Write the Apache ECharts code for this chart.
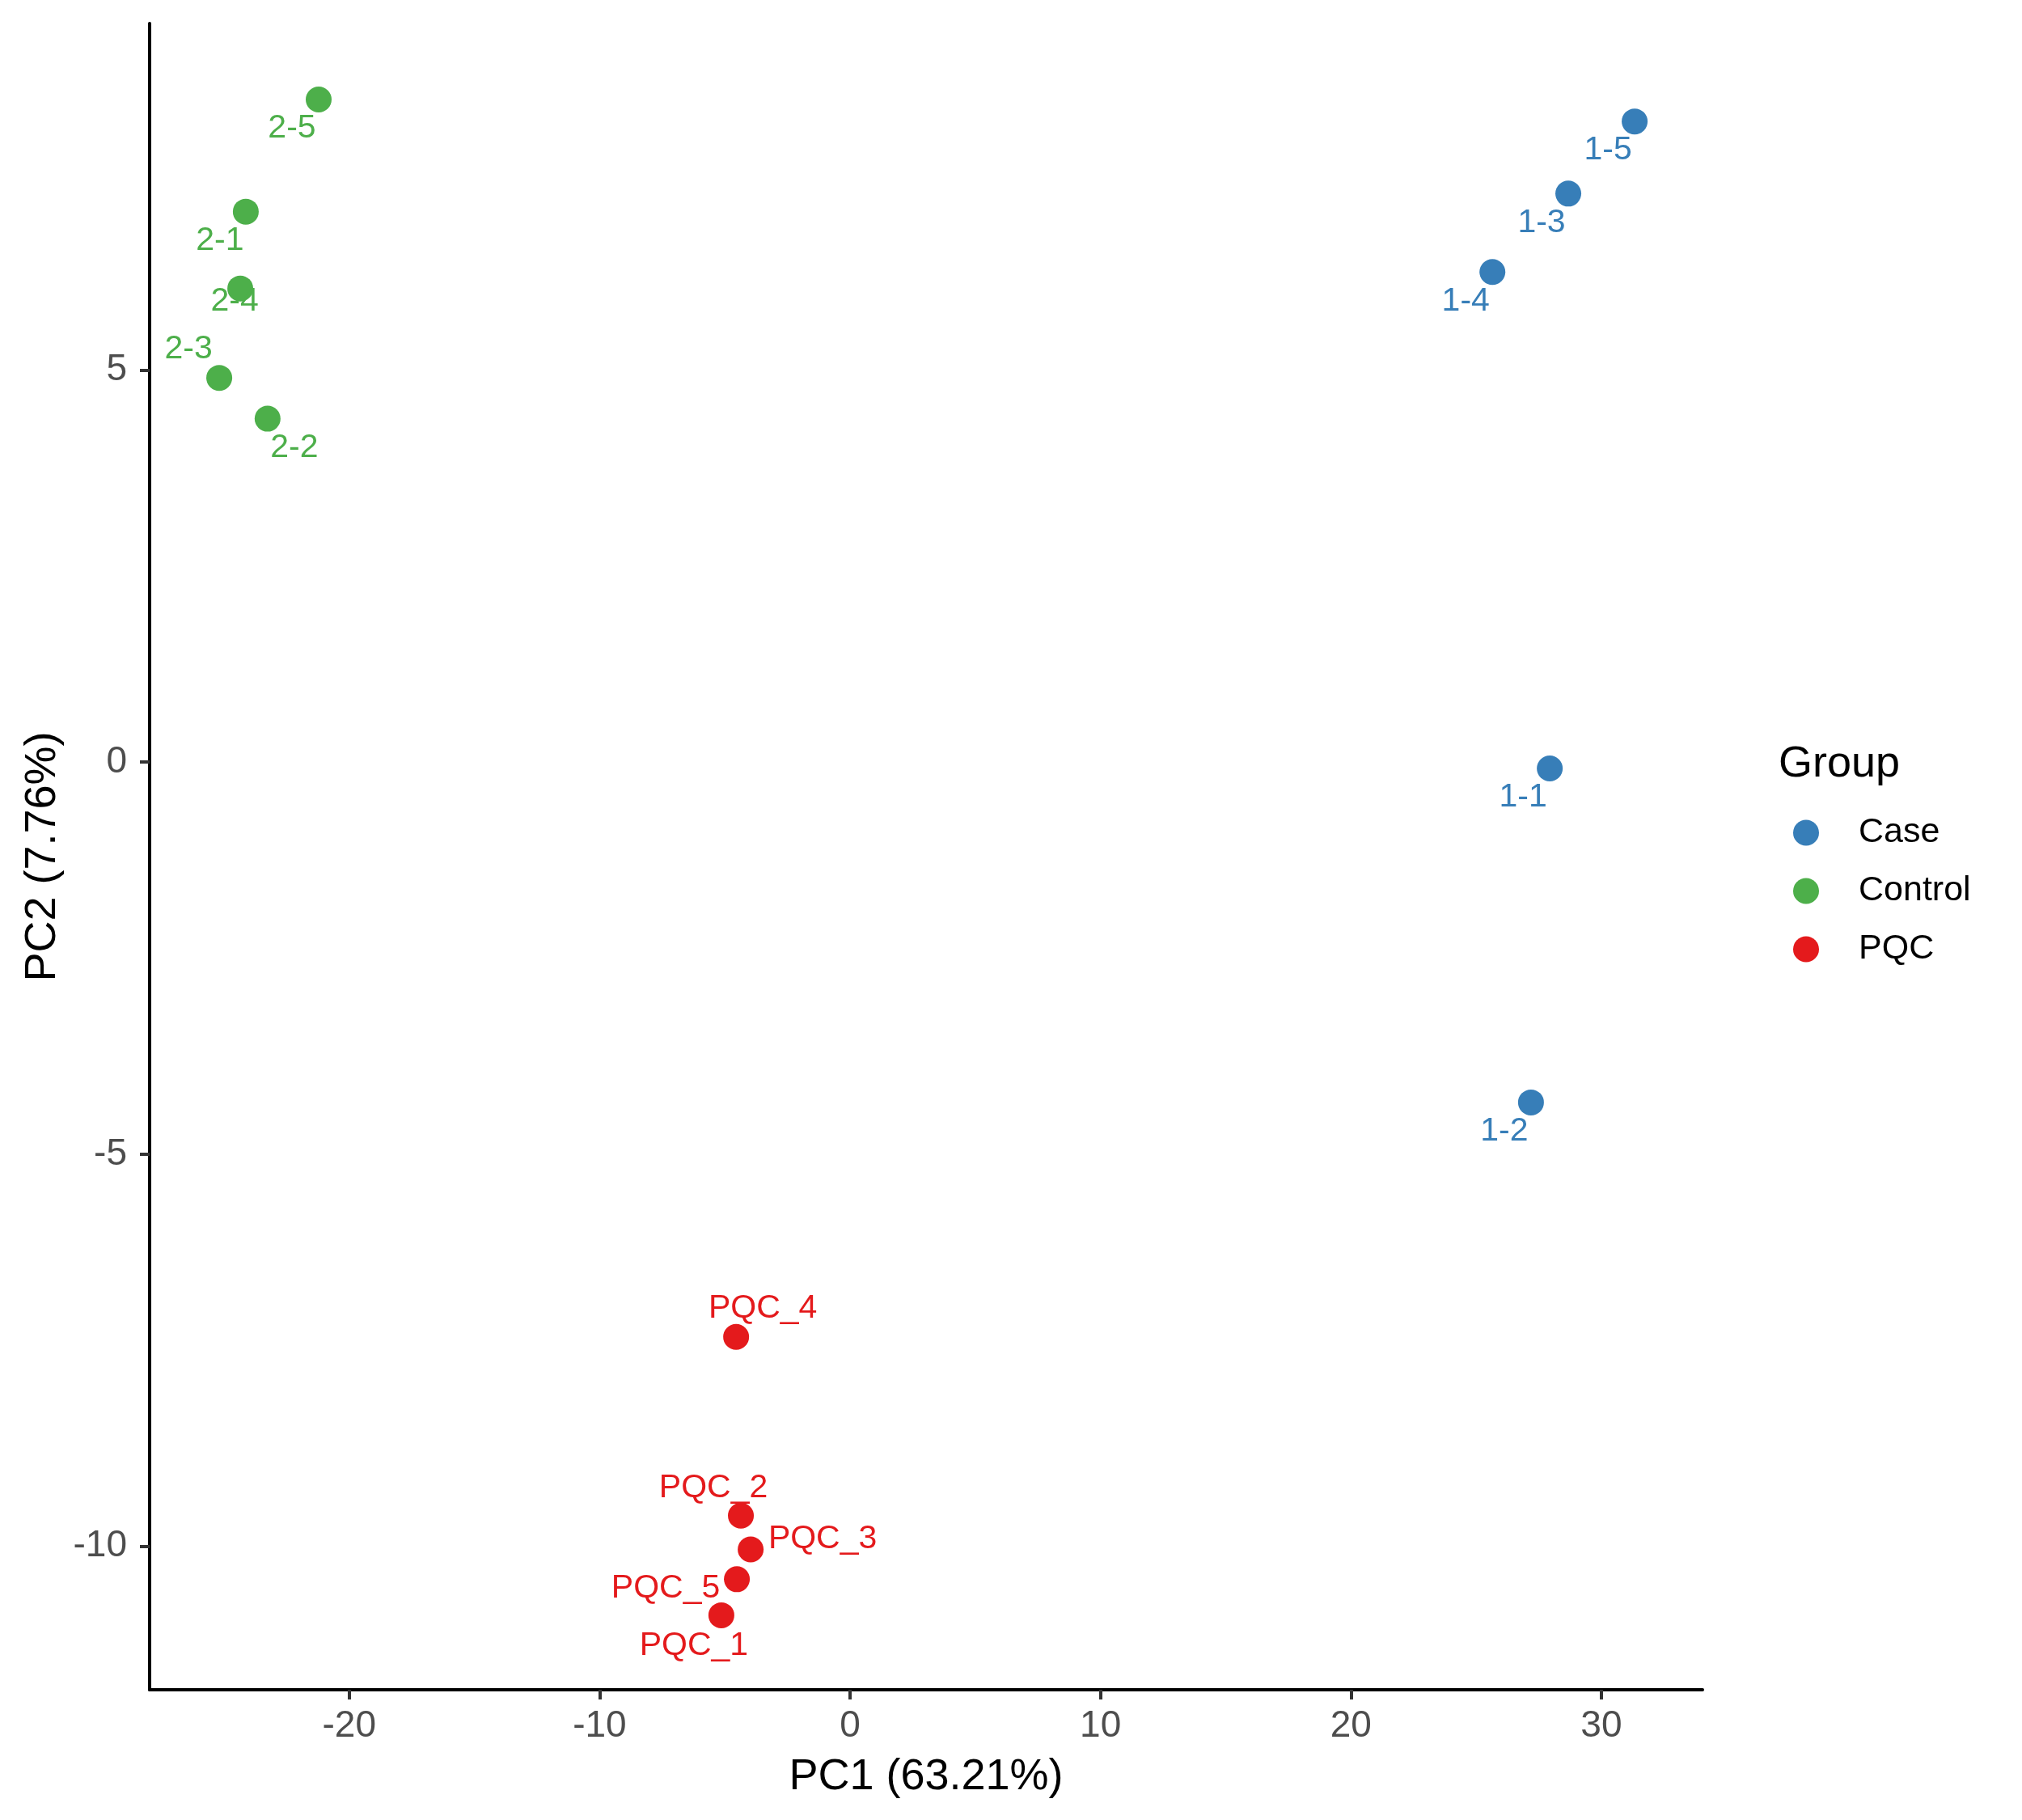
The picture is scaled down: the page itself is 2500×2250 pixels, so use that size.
<!DOCTYPE html>
<html>
<head>
<meta charset="utf-8">
<script src="https://cdn.jsdelivr.net/npm/echarts@6/dist/echarts.min.js"></script>
<style>
  html, body { margin: 0; padding: 0; background: #fff; }
  #main { width: 2500px; height: 2250px; }
</style>
</head>
<body>
<div id="main"></div>
<script>
// PCA scores per group
const groups = ['Case', 'Control', 'PQC'];
const groupColors = ['#377EB8', '#4DAF4A', '#E41A1C'];

const caseNames = ['1-5', '1-3', '1-4', '1-1', '1-2'];
const caseX = [31.33, 28.68, 25.65, 27.94, 27.19];
const caseY = [8.17, 7.25, 6.25, -0.08, -4.34];

const controlNames = ['2-5', '2-1', '2-4', '2-3', '2-2'];
const controlX = [-21.22, -24.13, -24.35, -25.19, -23.26];
const controlY = [8.45, 7.02, 6.04, 4.90, 4.38];

const pqcNames = ['PQC_4', 'PQC_2', 'PQC_3', 'PQC_5', 'PQC_1'];
const pqcX = [-4.55, -4.36, -3.97, -4.52, -5.14];
const pqcY = [-7.33, -9.61, -10.04, -10.42, -10.88];

const xTicks = [-20, -10, 0, 10, 20, 30];
const yTicks = [-10, -5, 0, 5];

// label nudges (px), like ggrepel placed them
const caseOffsets = [[-33, 36], [-33, 36], [-33, 36], [-33, 36], [-33, 36]];
const controlOffsets = [[-33, 36], [-32, 36], [-7, 16], [-38, -35], [33, 36]];
const pqcOffsets = [[33, -35], [-34, -34], [89, -13], [-88, 11], [-34, 38]];

const chart = echarts.init(document.getElementById('main'), null, { renderer: 'canvas' });

function makeSeries(name, color, names, xs, ys, offsets) {
  return {
    name: name,
    type: 'scatter',
    symbol: 'circle',
    symbolSize: 32,
    itemStyle: { color: color, opacity: 1 },
    label: {
      show: true,
      position: 'inside',
      color: color,
      fontFamily: 'Liberation Sans',
      fontSize: 41,
      formatter: p => p.data.value[2]
    },
    emphasis: { disabled: true },
    data: names.map((n, i) => ({
      value: [xs[i], ys[i], n],
      label: { offset: offsets[i] }
    }))
  };
}

const font = 'Liberation Sans';

chart.setOption({
  backgroundColor: '#ffffff',
  animation: false,
  grid: { left: 185, right: 395, top: 29, bottom: 161 },
  title: {
    text: 'Group',
    left: 2194,
    top: 913,
    textStyle: { fontFamily: font, fontSize: 54, fontWeight: 'normal', color: '#000' }
  },
  legend: {
    data: groups,
    orient: 'vertical',
    left: 2212,
    top: 1003,
    itemWidth: 32,
    itemHeight: 32,
    itemGap: 29,
    icon: 'circle',
    textStyle: { fontFamily: font, fontSize: 43, color: '#000', padding: [0, 0, 0, 44] }
  },
  xAxis: {
    type: 'value',
    min: -27.97,
    max: 34.04,
    name: 'PC1 (63.21%)',
    nameLocation: 'middle',
    nameGap: 81,
    nameTextStyle: { fontFamily: font, fontSize: 54, color: '#000' },
    axisLine: { show: true, onZero: false, lineStyle: { color: '#000', width: 4 } },
    axisTick: { show: true, length: 12, lineStyle: { color: '#333', width: 4 }, customValues: xTicks },
    axisLabel: { fontFamily: font, fontSize: 46, color: '#4D4D4D', margin: 22, customValues: xTicks },
    splitLine: { show: false }
  },
  yAxis: {
    type: 'value',
    min: -11.83,
    max: 9.42,
    name: 'PC2 (7.76%)',
    nameLocation: 'middle',
    nameGap: 104,
    nameRotate: 90,
    nameTextStyle: { fontFamily: font, fontSize: 54, color: '#000' },
    axisLine: { show: true, onZero: false, lineStyle: { color: '#000', width: 4 } },
    axisTick: { show: true, length: 12, lineStyle: { color: '#333', width: 4 }, customValues: yTicks },
    axisLabel: { fontFamily: font, fontSize: 46, color: '#4D4D4D', margin: 28, customValues: yTicks },
    splitLine: { show: false }
  },
  series: [
    makeSeries(groups[0], groupColors[0], caseNames, caseX, caseY, caseOffsets),
    makeSeries(groups[1], groupColors[1], controlNames, controlX, controlY, controlOffsets),
    makeSeries(groups[2], groupColors[2], pqcNames, pqcX, pqcY, pqcOffsets)
  ]
});
</script>
</body>
</html>
